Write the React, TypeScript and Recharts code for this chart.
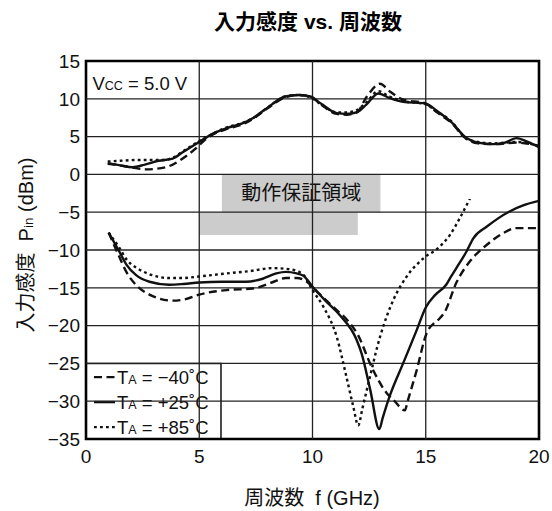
import React from 'react';
import { LineChart, Line, XAxis, YAxis, ReferenceArea, ReferenceLine } from 'recharts';

const LATIN = '"Liberation Sans", Arial, Helvetica, sans-serif';
const MIXED = '"Liberation Sans", "Noto Sans CJK JP", sans-serif';

// [frequency GHz, input power dBm]
const upperMinus40: number[][] = [
  [0.96, 1.4], [1.5, 1.2], [2.06, 0.9], [2.65, 0.67], [3.5, 0.94], [4.27, 2.1], [4.85, 3.45],
  [5.3, 4.7], [6.2, 6.0], [6.9, 6.6], [7.4, 7.4], [8.0, 8.7], [8.8, 10.2], [9.4, 10.5],
  [9.9, 10.3], [10.4, 9.2], [11.07, 8.0], [11.5, 7.9], [11.95, 8.2], [12.4, 10.3], [12.98, 12.0],
  [13.4, 11.0], [14.0, 9.9], [14.97, 9.4], [15.5, 8.2], [16.1, 6.9], [16.8, 4.7], [17.3, 4.1],
  [18.0, 4.0], [19.0, 4.2], [20, 3.8],
];
const upperPlus25: number[][] = [
  [0.96, 1.5], [1.5, 1.2], [2.06, 0.95], [2.6, 1.3], [3.2, 1.8], [3.83, 2.1], [4.3, 3.0],
  [5.0, 4.3], [5.6, 5.4], [6.2, 6.1], [6.9, 6.75], [7.4, 7.5], [8.0, 8.8], [8.8, 10.3],
  [9.4, 10.5], [9.9, 10.3], [10.4, 9.3], [11.07, 8.1], [11.5, 8.0], [11.95, 8.2], [12.4, 9.3],
  [12.9, 10.7], [13.4, 10.1], [14.0, 9.6], [14.97, 9.4], [15.5, 8.4], [16.1, 7.0], [16.8, 4.8],
  [17.3, 4.2], [18.0, 4.0], [18.5, 4.2], [19.0, 4.8], [19.5, 4.3], [20, 3.6],
];
const upperPlus85: number[][] = [
  [0.96, 1.7], [1.5, 1.8], [2.2, 1.9], [3.4, 1.9], [3.83, 2.2], [4.3, 3.1], [5.0, 4.4],
  [5.6, 5.4], [6.2, 6.2], [6.9, 6.8], [7.4, 7.5], [8.0, 8.8], [8.8, 10.3], [9.4, 10.5],
  [9.9, 10.2], [10.4, 9.2], [11.07, 8.2], [11.5, 8.2], [11.95, 8.5], [12.4, 9.6], [12.9, 11.0],
  [13.4, 10.3], [14.0, 9.7], [14.97, 9.3], [15.5, 8.3], [16.1, 7.1], [16.8, 4.7], [17.3, 4.3],
  [18.0, 4.1], [19.0, 4.3], [20, 3.7],
];
const lowerMinus40: number[][] = [
  [1.0, -7.7], [1.47, -10.9], [1.8, -13.0], [2.2, -14.6], [2.8, -15.9], [3.83, -16.7], [4.4, -16.5],
  [5.0, -15.9], [6.2, -15.3], [7.36, -15.1], [8.2, -14.3], [8.83, -13.7], [9.3, -13.7], [9.7, -14.1],
  [10.2, -15.5], [10.9, -17.5], [11.6, -19.5], [12.0, -21.2], [12.6, -25.4], [13.27, -28.9],
  [13.57, -29.8], [14.08, -31.2], [14.2, -30.0], [14.6, -25.9], [15.04, -21.0], [15.63, -19.0],
  [15.8, -18.4], [16.37, -14.2], [16.95, -11.5], [17.7, -9.3], [18.4, -7.8], [19.0, -7.1], [20, -7.1],
];
const lowerPlus25: number[][] = [
  [1.0, -7.7], [1.47, -10.2], [1.8, -12.0], [2.2, -13.3], [2.8, -14.2], [3.68, -14.6], [4.3, -14.5],
  [5.0, -14.3], [6.0, -14.2], [7.06, -14.2], [7.8, -13.8], [8.4, -13.1], [8.83, -12.9], [9.3, -13.1],
  [9.6, -13.4], [10.04, -15.0], [10.6, -16.8], [11.2, -18.6], [11.95, -21.9], [12.17, -23.7],
  [12.55, -28.5], [12.95, -33.7], [13.1, -32.2], [13.4, -29.4], [14.0, -25.0], [14.6, -20.6],
  [15.0, -17.6], [15.4, -16.0], [15.9, -14.6], [16.1, -13.6], [16.37, -12.3], [16.8, -10.2],
  [17.1, -8.45], [17.7, -6.9], [18.7, -4.9], [19.3, -4.1], [20, -3.5],
];
const lowerPlus85: number[][] = [
  [1.0, -7.7], [1.47, -9.7], [1.8, -11.3], [2.2, -12.3], [2.8, -13.2], [3.68, -13.7], [4.3, -13.7],
  [5.0, -13.5], [6.2, -13.1], [7.2, -12.8], [8.24, -12.4], [9.1, -12.6], [9.6, -13.3], [10.0, -15.3],
  [10.48, -17.5], [11.07, -21.5], [11.5, -26.8], [11.8, -30.7], [12.02, -33.2], [12.2, -31.0],
  [12.47, -27.6], [12.98, -21.5], [13.57, -16.6], [14.16, -13.5], [14.9, -11.1], [15.6, -9.6],
  [16.07, -8.0], [16.5, -5.8], [16.95, -3.2],
];

const xTicks = [0, 5, 10, 15, 20];
const yTicks = [15, 10, 5, 0, -5, -10, -15, -20, -25, -30, -35];
const xGrid = [5, 10, 15];
const yGrid = [10, 5, 0, -5, -10, -15, -20, -25, -30];

const regionLow = { x1: 5, x2: 12, y1: -8, y2: -5 };
const regionHigh = { x1: 6, x2: 13, y1: -5, y2: 0 };
const legendBox = { x1: 0, x2: 5.96, y1: -35, y2: -25 };

const toPts = (a: number[][]) => a.map(([f, p]) => ({ f, p }));

const DASH = '8 4.5';
const DOT = '2.8 3.2';
const LINE_W = 2.4;
const INK = '#111';

const legendRows = [
  { dash: DASH, text: ' = \u221240\u02DAC' },
  { dash: undefined, text: ' = +25\u02DAC' },
  { dash: DOT, text: ' = +85\u02DAC' },
];

const renderLegend = (props: any) => {
  const { x, y } = props.viewBox;
  return (
    <g>
      {legendRows.map((r, i) => {
        const cy = y + 13.7 + i * 25;
        return (
          <g key={i}>
            <line x1={x + 8} x2={x + 29} y1={cy} y2={cy} stroke={INK} strokeWidth={LINE_W} strokeDasharray={r.dash} />
            <text x={x + 31} y={cy + 6.8} fontFamily={LATIN} fontSize={18.5} fill={INK}>
              T<tspan fontSize={12.5}>A</tspan>{r.text}
            </text>
          </g>
        );
      })}
    </g>
  );
};

const renderVcc = (props: any) => {
  const { x, y } = props.viewBox;
  return (
    <text x={x + 6.5} y={y + 29} fontFamily={LATIN} fontSize={18.5} fill={INK}>
      V<tspan fontSize={12.5}>CC</tspan> = 5.0 V
    </text>
  );
};

const renderRegion = (props: any) => {
  const { x, y, width, height } = props.viewBox;
  return (
    <text x={x + width / 2} y={y + height / 2 + 7} textAnchor="middle" fontFamily={MIXED} fontSize={20} fill={INK}>
      動作保証領域
    </text>
  );
};

const fmt = (v: number) => (v < 0 ? '\u2212' + Math.abs(v) : String(v));

export default function App() {
  return (
    <div style={{ position: 'absolute', left: 0, top: 0, width: 552, height: 511, background: '#fff' }}>
      <LineChart width={552} height={511} margin={{ top: 61, right: 13, bottom: 42, left: 0 }}>
        <XAxis
          type="number"
          dataKey="f"
          domain={[0, 20]}
          ticks={xTicks}
          allowDataOverflow
          axisLine={false}
          tickLine={false}
          tickSize={0}
          tickMargin={11}
          height={30}
          tick={{ fill: INK, fontSize: 19, fontFamily: LATIN }}
        />
        <YAxis
          type="number"
          dataKey="p"
          domain={[-35, 15]}
          ticks={yTicks}
          allowDataOverflow
          axisLine={false}
          tickLine={false}
          tickSize={0}
          tickMargin={6}
          width={86}
          tickFormatter={fmt}
          tick={{ fill: INK, fontSize: 19, fontFamily: LATIN }}
        />
        <ReferenceArea {...regionLow} fill="#cccccc" fillOpacity={1} stroke="none" />
        <ReferenceArea {...regionHigh} fill="#cccccc" fillOpacity={1} stroke="none" label={renderRegion} />
        {xGrid.map((v) => (
          <ReferenceLine key={'x' + v} x={v} stroke="#222" strokeWidth={1.3} />
        ))}
        {yGrid.map((v) => (
          <ReferenceLine key={'y' + v} y={v} stroke="#222" strokeWidth={1.3} />
        ))}
        <ReferenceArea x1={0} x2={5} y1={10} y2={15} fill="none" stroke="none" label={renderVcc} />
        <ReferenceArea {...legendBox} fill="#ffffff" fillOpacity={1} stroke={INK} strokeWidth={1.5} label={renderLegend} />
        <Line data={toPts(upperMinus40)} dataKey="p" type="monotone" stroke={INK} strokeWidth={LINE_W} strokeDasharray={DASH} dot={false} isAnimationActive={false} />
        <Line data={toPts(upperPlus85)} dataKey="p" type="monotone" stroke={INK} strokeWidth={LINE_W} strokeDasharray={DOT} dot={false} isAnimationActive={false} />
        <Line data={toPts(upperPlus25)} dataKey="p" type="monotone" stroke={INK} strokeWidth={LINE_W} dot={false} isAnimationActive={false} />
        <Line data={toPts(lowerMinus40)} dataKey="p" type="monotone" stroke={INK} strokeWidth={LINE_W} strokeDasharray={DASH} dot={false} isAnimationActive={false} />
        <Line data={toPts(lowerPlus85)} dataKey="p" type="monotone" stroke={INK} strokeWidth={LINE_W} strokeDasharray={DOT} dot={false} isAnimationActive={false} />
        <Line data={toPts(lowerPlus25)} dataKey="p" type="monotone" stroke={INK} strokeWidth={LINE_W} dot={false} isAnimationActive={false} />
        <ReferenceArea x1={0} x2={20} y1={-35} y2={15} fill="none" stroke="#000" strokeWidth={2.6} />
        <text x={308} y={28.5} textAnchor="middle" fontFamily={MIXED} fontSize={21} fontWeight="bold" fill="#000">
          入力感度 vs. 周波数
        </text>
        <text x={312} y={505} textAnchor="middle" fontFamily={MIXED} fontSize={20} fill={INK}>
          周波数{'\u00A0\u00A0'}f (GHz)
        </text>
        <text transform="translate(33,245) rotate(-90)" textAnchor="middle" fontFamily={MIXED} fontSize={20} fill={INK}>
          入力感度{'\u00A0\u00A0'}P<tspan fontSize={13.5}>in</tspan> (dBm)
        </text>
      </LineChart>
    </div>
  );
}
